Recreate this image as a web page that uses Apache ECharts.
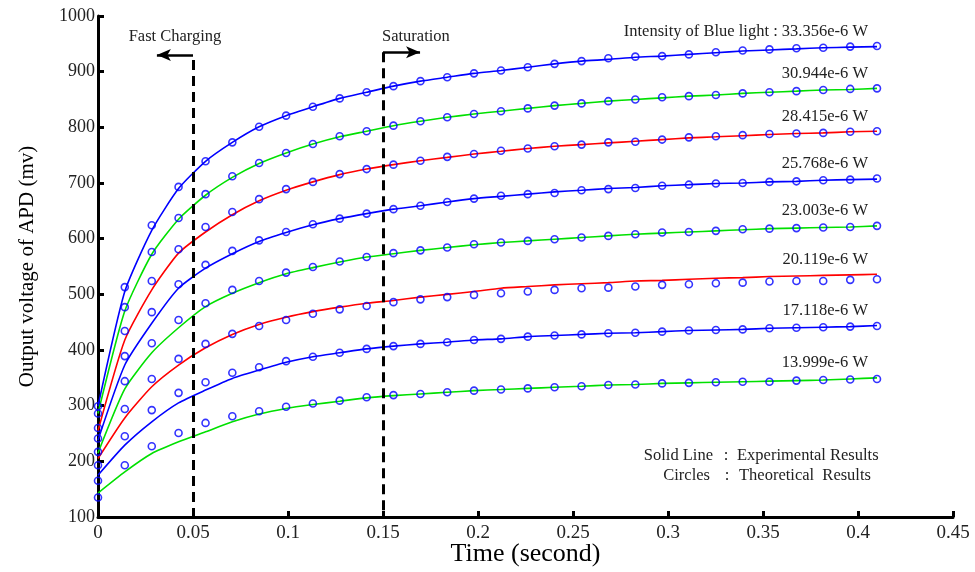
<!DOCTYPE html>
<html>
<head>
<meta charset="utf-8">
<script src="https://cdn.jsdelivr.net/npm/echarts@6/dist/echarts.min.js"></script>
<style>
html, body { margin: 0; background: #fff; }
#apd { width: 975px; height: 572px; }
</style>
</head>
<body>
<div id="apd"></div>
<script>
// sample times (s)
const time = [0, 0.0141, 0.0283, 0.0424, 0.0566, 0.0707, 0.0848, 0.0990, 0.1131, 0.1272,
  0.1414, 0.1555, 0.1697, 0.1838, 0.1979, 0.2121, 0.2262, 0.2403, 0.2545, 0.2686,
  0.2828, 0.2969, 0.3110, 0.3252, 0.3393, 0.3534, 0.3676, 0.3817, 0.3959, 0.4100];

// light intensity of each curve, top to bottom
const intensities = ['33.356e-6 W', '30.944e-6 W', '28.415e-6 W', '25.768e-6 W',
  '23.003e-6 W', '20.119e-6 W', '17.118e-6 W', '13.999e-6 W'];

// experimental (solid line), mV
const exp1 = [299, 505, 615, 690, 739, 773, 801, 821, 837, 852, 863, 874, 883, 890, 897, 902, 908, 914, 919, 922, 926, 928, 931, 934, 937, 939, 941, 943, 944, 945];
const exp2 = [286, 470, 572, 635, 678, 710, 735, 754, 770, 783, 793, 803, 811, 818, 824, 829, 834, 839, 843, 847, 850, 853, 856, 858, 861, 863, 865, 867, 868, 870];
const exp3 = [255, 418, 508, 574, 612, 643, 668, 687, 702, 715, 725, 733, 740, 746, 752, 757, 762, 766, 769, 772, 775, 778, 781, 783, 785, 787, 789, 790, 792, 793];
const exp4 = [238, 373, 448, 511, 547, 573, 595, 611, 625, 636, 645, 653, 659, 666, 672, 676, 680, 684, 687, 690, 692, 695, 697, 699, 700, 702, 703, 705, 706, 707];
const exp5 = [215, 330, 395, 440, 478, 502, 521, 537, 548, 558, 567, 573, 579, 584, 589, 593, 596, 599, 602, 605, 608, 610, 612, 614, 616, 618, 619, 620, 621, 623];
const exp6 = [205, 278, 334, 373, 404, 428, 446, 459, 469, 477, 484, 489, 495, 500, 505, 511, 514, 517, 519, 521, 524, 525, 527, 529, 530, 532, 533, 534, 535, 536];
const exp7 = [175, 229, 271, 305, 328, 349, 364, 378, 388, 395, 402, 407, 411, 414, 418, 420, 424, 426, 428, 430, 431, 433, 435, 436, 437, 439, 440, 441, 442, 444];
const exp8 = [143, 181, 214, 235, 253, 271, 285, 295, 302, 308, 314, 318, 321, 324, 327, 329, 331, 333, 335, 337, 338, 340, 341, 342, 343, 344, 345, 346, 348, 350];

// theoretical (circles), mV
const theo1 = [299, 513, 624, 693, 739, 773, 801, 821, 837, 852, 863, 874, 883, 890, 897, 902, 908, 914, 919, 924, 927, 928, 931, 935, 938, 940, 942, 943, 945, 946];
const theo2 = [286, 477, 576, 637, 680, 712, 736, 754, 770, 784, 793, 803, 811, 818, 824, 829, 834, 839, 843, 847, 850, 854, 856, 858, 861, 863, 865, 867, 869, 870];
const theo3 = [260, 434, 524, 581, 621, 648, 671, 689, 702, 716, 725, 733, 740, 747, 752, 758, 762, 766, 769, 773, 774, 778, 782, 784, 786, 788, 789, 790, 792, 793];
const theo4 = [241, 389, 468, 518, 553, 578, 597, 612, 626, 636, 645, 653, 659, 666, 672, 677, 680, 682, 687, 689, 691, 695, 697, 699, 700, 702, 703, 705, 706, 708];
const theo5 = [217, 344, 412, 454, 484, 508, 524, 539, 549, 559, 567, 574, 579, 584, 590, 593, 596, 599, 602, 605, 608, 611, 612, 614, 617, 618, 619, 620, 621, 623];
const theo6 = [193, 294, 348, 384, 411, 429, 443, 454, 465, 473, 479, 486, 491, 495, 499, 502, 505, 508, 511, 512, 514, 517, 518, 520, 521, 523, 524, 524, 526, 527];
const theo7 = [165, 245, 292, 323, 342, 359, 369, 380, 388, 395, 402, 407, 411, 414, 418, 420, 424, 426, 428, 430, 431, 433, 435, 436, 437, 439, 440, 441, 442, 443];
const theo8 = [135, 193, 227, 251, 269, 281, 290, 298, 304, 309, 315, 319, 321, 324, 327, 329, 331, 333, 335, 337, 338, 340, 341, 342, 343, 343, 345, 346, 347, 348];

// phase boundaries (s)
const fastChargingEnd = 0.05;
const saturationStart = 0.15;

const expAll = [exp1, exp2, exp3, exp4, exp5, exp6, exp7, exp8];
const theoAll = [theo1, theo2, theo3, theo4, theo5, theo6, theo7, theo8];
const lineColors = ['#0000ff', '#00e000', '#ff0000', '#0000ff', '#00e000', '#ff0000', '#0000ff', '#00e000'];

const SERIF = '"Liberation Serif", "DejaVu Serif", serif';

const pairs = (ys) => time.map((t, i) => [t, ys[i]]);

const series = [];
expAll.forEach((ys, i) => {
  series.push({
    type: 'line',
    data: pairs(ys),
    showSymbol: false,
    smooth: 0.2,
    lineStyle: { color: lineColors[i], width: 1.6 },
    z: 2,
  });
});
theoAll.forEach((ys) => {
  series.push({
    type: 'scatter',
    data: pairs(ys),
    symbol: 'circle',
    symbolSize: 7,
    itemStyle: { color: 'rgba(0,0,0,0)', borderColor: '#0000ff', borderWidth: 1.6 },
    z: 3,
  });
});

// dashed phase lines with arrows
const topFast = 921, topSat = 935;
series.push({
  type: 'line',
  data: [],
  markLine: {
    silent: true,
    animation: false,
    label: { show: false },
    symbol: ['none', 'none'],
    lineStyle: { color: '#000', width: 3, type: [10, 6] },
    data: [
      [{ coord: [fastChargingEnd, topFast] }, { coord: [fastChargingEnd, 100] }],
      [{ coord: [saturationStart, topSat] }, { coord: [saturationStart, 100] }],
      [
        { coord: [fastChargingEnd, 930], symbol: 'none', lineStyle: { type: 'solid', width: 2.5 } },
        { coord: [0.031, 930], symbol: 'arrow', symbolSize: [9, 14] },
      ],
      [
        { coord: [saturationStart, topSat], symbol: 'none', lineStyle: { type: 'solid', width: 2.5 } },
        { coord: [0.1695, topSat], symbol: 'arrow', symbolSize: [9, 14] },
      ],
    ],
  },
});

const chart = echarts.init(document.getElementById('apd'));
chart.setOption({
  animation: false,
  backgroundColor: '#fff',
  textStyle: { fontFamily: SERIF },
  grid: { left: 98, right: 22, top: 16, bottom: 55, outerBoundsMode: 'none' },
  xAxis: {
    type: 'value',
    min: 0,
    max: 0.45,
    interval: 0.05,
    name: 'Time (second)',
    nameLocation: 'middle',
    nameGap: 24,
    nameMoveOverlap: false,
    nameTextStyle: { fontFamily: SERIF, fontSize: 26, color: '#000' },
    axisLine: { lineStyle: { color: '#000', width: 3 } },
    axisTick: { inside: true, length: 6, lineStyle: { color: '#000', width: 3 } },
    axisLabel: {
      fontFamily: SERIF, fontSize: 19, color: '#222', margin: 7,
      formatter: (v) => String(+v.toFixed(2)),
    },
    splitLine: { show: false },
  },
  yAxis: {
    type: 'value',
    min: 100,
    max: 1000,
    interval: 100,
    name: 'Output voltage of APD (mv)',
    nameLocation: 'middle',
    nameGap: 60,
    nameTextStyle: { fontFamily: SERIF, fontSize: 21, color: '#000' },
    axisLine: { lineStyle: { color: '#000', width: 3 } },
    axisTick: { inside: true, length: 6, lineStyle: { color: '#000', width: 3 } },
    axisLabel: {
      fontFamily: SERIF, fontSize: 18, color: '#222', margin: 3,
      formatter: (v) => String(v),
    },
    splitLine: { show: false },
  },
  series: series,
});

// annotation texts
const px = (x, y) => chart.convertToPixel({ gridIndex: 0 }, [x, y]);
const txt = (x, y, text, align) => ({
  type: 'text',
  x: x, y: y,
  style: {
    text: text, fill: '#222', font: '16.5px ' + SERIF,
    textAlign: align || 'left', textVerticalAlign: 'middle',
  },
  silent: true,
});

const graphics = [];
const lastT = time[time.length - 1];
expAll.forEach((ys, i) => {
  const p = px(lastT, ys[ys.length - 1]);
  const label = i === 0 ? 'Intensity of Blue light : ' + intensities[i] : intensities[i];
  graphics.push(txt(p[0] - 9, p[1] - 15, label, 'right'));
});
const pf = px(fastChargingEnd, 962);
graphics.push(txt(pf[0] - 18, pf[1], 'Fast Charging', 'center'));
const ps = px(saturationStart, 962);
graphics.push(txt(ps[0] - 1, ps[1], 'Saturation', 'left'));
graphics.push(txt(713, 456, 'Solid Line', 'right'));
graphics.push(txt(726, 456, ':', 'center'));
graphics.push(txt(737, 456, 'Experimental Results', 'left'));
graphics.push(txt(710, 476, 'Circles', 'right'));
graphics.push(txt(727, 476, ':', 'center'));
graphics.push(txt(739, 476, 'Theoretical  Results', 'left'));

chart.setOption({ graphic: graphics });
</script>
</body>
</html>
